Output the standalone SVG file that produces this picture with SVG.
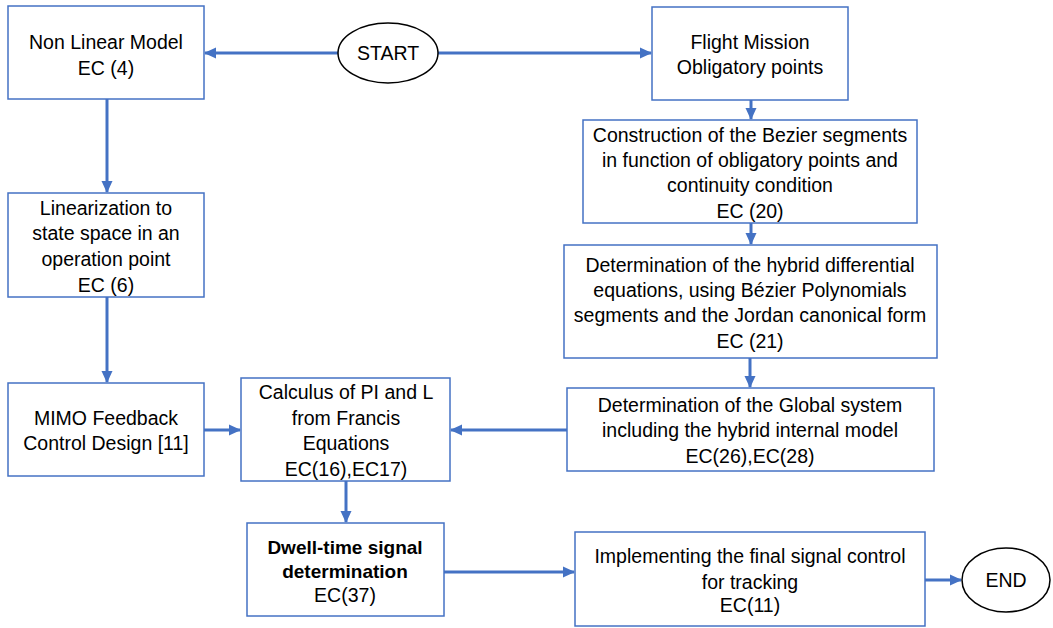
<svg xmlns="http://www.w3.org/2000/svg" width="1053" height="628" viewBox="0 0 1053 628">
<style>
.box{fill:#fff;stroke:#4472C4;stroke-width:1.5}
.term{fill:#fff;stroke:#000;stroke-width:1.5}
.t{font-family:"Liberation Sans",Arial,sans-serif;font-size:19.5px;fill:#000;text-anchor:middle}
.b{font-weight:bold;font-size:19px}
.c{stroke:#4472C4;stroke-width:3;fill:none;marker-end:url(#ah)}
</style>
<defs>
<marker id="ah" markerUnits="userSpaceOnUse" markerWidth="12" markerHeight="12" viewBox="0 0 12 12" refX="11" refY="6" orient="auto">
<path d="M0,0.5 L12,6 L0,11.5 Z" fill="#4472C4"/>
</marker>
</defs>
<rect width="1053" height="628" fill="#fff"/>
<g id="connectors">
<line class="c" x1="338" y1="53" x2="205" y2="53"/>
<line class="c" x1="438" y1="53" x2="651" y2="53"/>
<line class="c" x1="107" y1="99" x2="107" y2="192"/>
<line class="c" x1="751" y1="100" x2="751" y2="119"/>
<line class="c" x1="751" y1="223" x2="751" y2="244"/>
<line class="c" x1="107" y1="297" x2="107" y2="382"/>
<line class="c" x1="750" y1="358" x2="750" y2="387"/>
<line class="c" x1="204" y1="430" x2="240" y2="430"/>
<line class="c" x1="567" y1="430" x2="451" y2="430"/>
<line class="c" x1="346" y1="481" x2="346" y2="522"/>
<line class="c" x1="444" y1="572" x2="574" y2="572"/>
<line class="c" x1="925" y1="580" x2="961" y2="580"/>
</g>
<g id="start">
<ellipse class="term" cx="388" cy="53" rx="50" ry="30"/>
<text class="t" x="388" y="60">START</text>
</g>
<g id="nonlinear">
<rect class="box" x="8" y="6" width="196" height="93"/>
<text class="t" x="106" y="49">Non Linear Model</text>
<text class="t" x="106" y="75">EC (4)</text>
</g>
<g id="flight">
<rect class="box" x="652" y="7" width="196" height="93"/>
<text class="t" x="750" y="49">Flight Mission</text>
<text class="t" x="750" y="74">Obligatory points</text>
</g>
<g id="construction">
<rect class="box" x="583" y="120" width="334" height="103"/>
<text class="t" x="750" y="142">Construction of the Bezier segments</text>
<text class="t" x="750" y="167">in function of obligatory points and</text>
<text class="t" x="750" y="192">continuity condition</text>
<text class="t" x="750" y="218">EC (20)</text>
</g>
<g id="linearization">
<rect class="box" x="8" y="193" width="196" height="104"/>
<text class="t" x="106" y="215">Linearization to</text>
<text class="t" x="106" y="240">state space in an</text>
<text class="t" x="106" y="266">operation point</text>
<text class="t" x="106" y="292">EC (6)</text>
</g>
<g id="hybrid">
<rect class="box" x="564" y="245" width="373" height="113"/>
<text class="t" x="750" y="272">Determination of the hybrid differential</text>
<text class="t" x="750" y="297">equations, using Bézier Polynomials</text>
<text class="t" x="750" y="322">segments and the Jordan canonical form</text>
<text class="t" x="750" y="348">EC (21)</text>
</g>
<g id="mimo">
<rect class="box" x="8" y="383" width="196" height="93"/>
<text class="t" x="106" y="425">MIMO Feedback</text>
<text class="t" x="106" y="450">Control Design [11]</text>
</g>
<g id="calculus">
<rect class="box" x="241" y="378" width="209" height="103"/>
<text class="t" x="346" y="399">Calculus of PI and L</text>
<text class="t" x="346" y="425">from Francis</text>
<text class="t" x="346" y="450">Equations</text>
<text class="t" x="346" y="476">EC(16),EC17)</text>
</g>
<g id="global">
<rect class="box" x="567" y="388" width="367" height="83"/>
<text class="t" x="750" y="412">Determination of the Global system</text>
<text class="t" x="750" y="437">including the hybrid internal model</text>
<text class="t" x="750" y="463">EC(26),EC(28)</text>
</g>
<g id="dwell">
<rect class="box" x="247" y="523" width="197" height="93"/>
<text class="t b" x="345" y="554">Dwell-time signal</text>
<text class="t b" x="345" y="578">determination</text>
<text class="t" x="345" y="602">EC(37)</text>
</g>
<g id="implementing">
<rect class="box" x="575" y="532" width="350" height="94"/>
<text class="t" x="750" y="563">Implementing the final signal control</text>
<text class="t" x="750" y="589">for tracking</text>
<text class="t" x="750" y="612">EC(11)</text>
</g>
<g id="end">
<ellipse class="term" cx="1006" cy="580" rx="44" ry="32"/>
<text class="t" x="1006" y="587">END</text>
</g>
</svg>
